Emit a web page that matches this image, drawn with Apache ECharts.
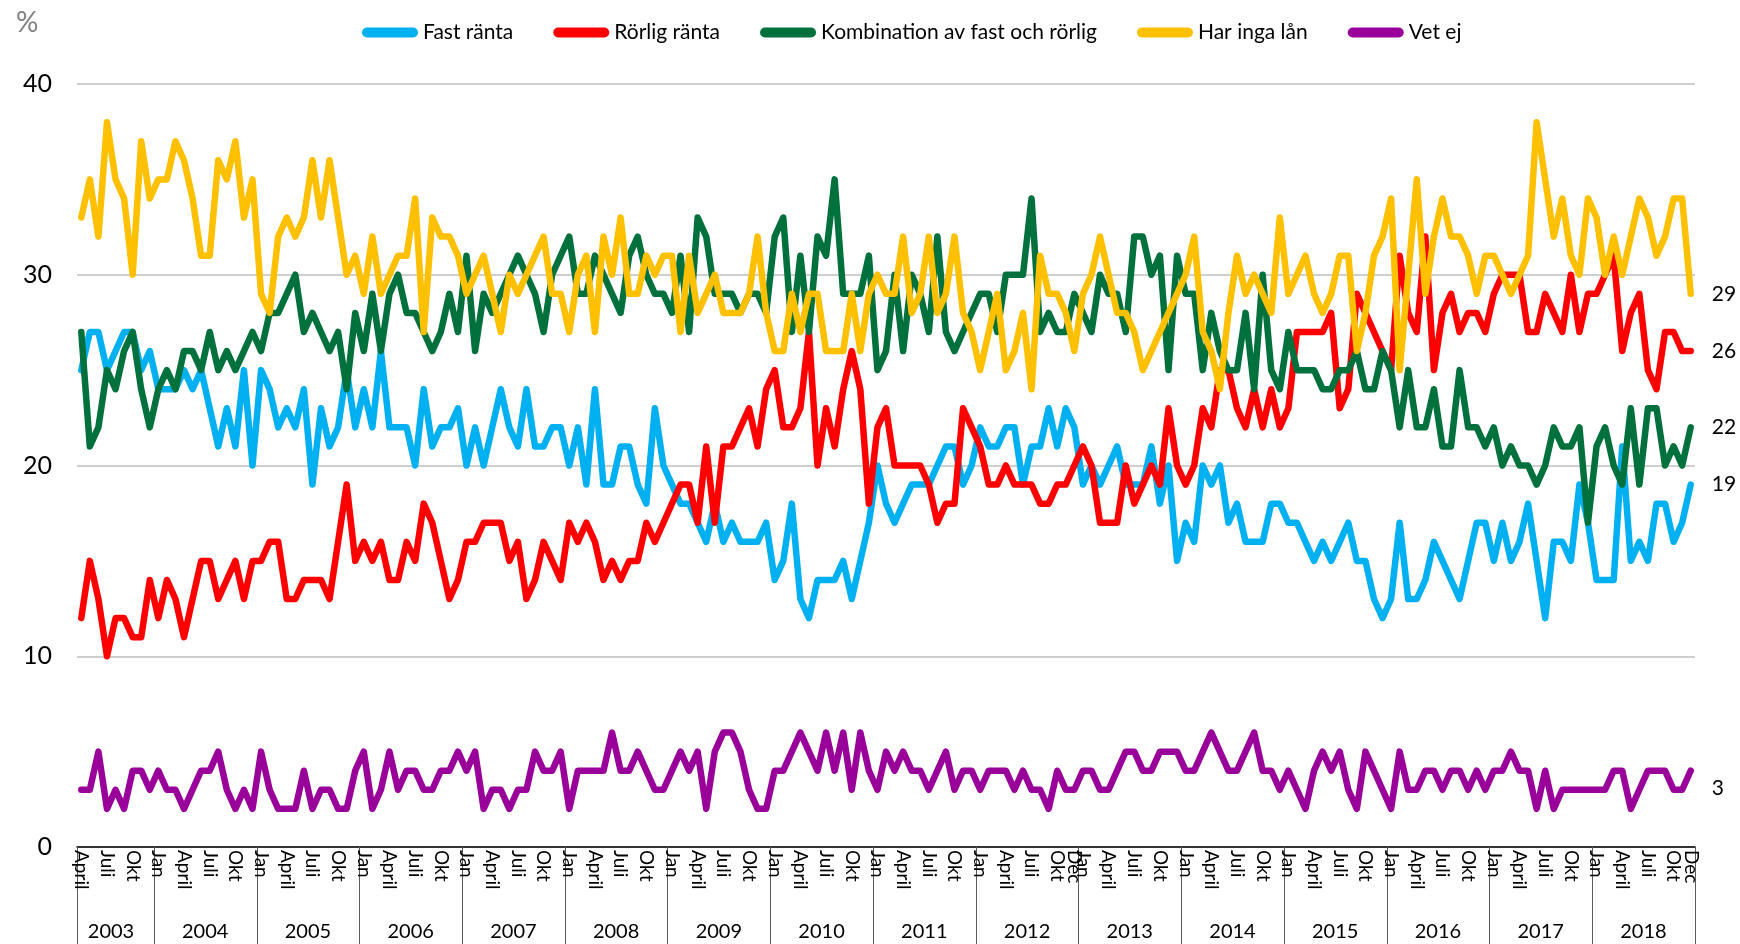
<!DOCTYPE html>
<html>
<head>
<meta charset="utf-8">
<title>Bolån</title>
<script src="https://cdn.jsdelivr.net/npm/echarts@6/dist/echarts.min.js"></script>
<style>
html, body { margin: 0; padding: 0; background: #fff; }
#container { width: 1740px; height: 944px; }
</style>
</head>
<body>
<div id="container"></div>
<script>
// år och månader på x-axeln
var years = ['2003', '2004', '2005', '2006', '2007', '2008', '2009', '2010',
    '2011', '2012', '2013', '2014', '2015', '2016', '2017', '2018'];
var monthNames = ['Jan', 'Feb', 'Mars', 'April', 'Maj', 'Juni', 'Juli', 'Aug', 'Sep', 'Okt', 'Nov', 'Dec'];
var shownMonths = ['Jan', 'April', 'Juli', 'Okt'];
var extraLabels = ['Dec 2012', 'Dec 2018'];
var startMonth = 3; // serien börjar i april 2003

// andel i procent, april 2003 - dec 2018
var fastRanta = [
    25, 27, 27, 25, 26, 27, 27, 25, 26, 24, 24, 24, 25, 24, 25, 23, 21, 23, 21, 25, 20, 25, 24, 22,
    23, 22, 24, 19, 23, 21, 22, 25, 22, 24, 22, 26, 22, 22, 22, 20, 24, 21, 22, 22, 23, 20, 22, 20,
    22, 24, 22, 21, 24, 21, 21, 22, 22, 20, 22, 19, 24, 19, 19, 21, 21, 19, 18, 23, 20, 19, 18, 18,
    17, 16, 18, 16, 17, 16, 16, 16, 17, 14, 15, 18, 13, 12, 14, 14, 14, 15, 13, 15, 17, 20, 18, 17,
    18, 19, 19, 19, 20, 21, 21, 19, 20, 22, 21, 21, 22, 22, 19, 21, 21, 23, 21, 23, 22, 19, 20, 19,
    20, 21, 19, 19, 19, 21, 18, 20, 15, 17, 16, 20, 19, 20, 17, 18, 16, 16, 16, 18, 18, 17, 17, 16,
    15, 16, 15, 16, 17, 15, 15, 13, 12, 13, 17, 13, 13, 14, 16, 15, 14, 13, 15, 17, 17, 15, 17, 15,
    16, 18, 15, 12, 16, 16, 15, 19, 17, 14, 14, 14, 21, 15, 16, 15, 18, 18, 16, 17, 19];
var rorligRanta = [
    12, 15, 13, 10, 12, 12, 11, 11, 14, 12, 14, 13, 11, 13, 15, 15, 13, 14, 15, 13, 15, 15, 16, 16,
    13, 13, 14, 14, 14, 13, 16, 19, 15, 16, 15, 16, 14, 14, 16, 15, 18, 17, 15, 13, 14, 16, 16, 17,
    17, 17, 15, 16, 13, 14, 16, 15, 14, 17, 16, 17, 16, 14, 15, 14, 15, 15, 17, 16, 17, 18, 19, 19,
    17, 21, 17, 21, 21, 22, 23, 21, 24, 25, 22, 22, 23, 27, 20, 23, 21, 24, 26, 24, 18, 22, 23, 20,
    20, 20, 20, 19, 17, 18, 18, 23, 22, 21, 19, 19, 20, 19, 19, 19, 18, 18, 19, 19, 20, 21, 20, 17,
    17, 17, 20, 18, 19, 20, 19, 23, 20, 19, 20, 23, 22, 25, 25, 23, 22, 24, 22, 24, 22, 23, 27, 27,
    27, 27, 28, 23, 24, 29, 28, 27, 26, 25, 31, 28, 27, 32, 25, 28, 29, 27, 28, 28, 27, 29, 30, 30,
    30, 27, 27, 29, 28, 27, 30, 27, 29, 29, 30, 31, 26, 28, 29, 25, 24, 27, 27, 26, 26];
var kombination = [
    27, 21, 22, 25, 24, 26, 27, 24, 22, 24, 25, 24, 26, 26, 25, 27, 25, 26, 25, 26, 27, 26, 28, 28,
    29, 30, 27, 28, 27, 26, 27, 24, 28, 26, 29, 26, 29, 30, 28, 28, 27, 26, 27, 29, 27, 31, 26, 29,
    28, 29, 30, 31, 30, 29, 27, 30, 31, 32, 29, 29, 31, 30, 29, 28, 31, 32, 30, 29, 29, 28, 31, 27,
    33, 32, 29, 29, 29, 28, 29, 29, 28, 32, 33, 27, 31, 27, 32, 31, 35, 29, 29, 29, 31, 25, 26, 30,
    26, 30, 29, 27, 32, 27, 26, 27, 28, 29, 29, 27, 30, 30, 30, 34, 27, 28, 27, 27, 29, 28, 27, 30,
    29, 29, 27, 32, 32, 30, 31, 25, 31, 29, 29, 25, 28, 26, 25, 25, 28, 24, 30, 25, 24, 27, 25, 25,
    25, 24, 24, 25, 25, 26, 24, 24, 26, 25, 22, 25, 22, 22, 24, 21, 21, 25, 22, 22, 21, 22, 20, 21,
    20, 20, 19, 20, 22, 21, 21, 22, 17, 21, 22, 20, 19, 23, 19, 23, 23, 20, 21, 20, 22];
var harIngaLan = [
    33, 35, 32, 38, 35, 34, 30, 37, 34, 35, 35, 37, 36, 34, 31, 31, 36, 35, 37, 33, 35, 29, 28, 32,
    33, 32, 33, 36, 33, 36, 33, 30, 31, 29, 32, 29, 30, 31, 31, 34, 27, 33, 32, 32, 31, 29, 30, 31,
    29, 27, 30, 29, 30, 31, 32, 29, 29, 27, 30, 31, 27, 32, 30, 33, 29, 29, 31, 30, 31, 31, 27, 31,
    28, 29, 30, 28, 28, 28, 29, 32, 28, 26, 26, 29, 27, 29, 29, 26, 26, 26, 29, 26, 29, 30, 29, 29,
    32, 28, 29, 32, 28, 29, 32, 28, 27, 25, 27, 29, 25, 26, 28, 24, 31, 29, 29, 28, 26, 29, 30, 32,
    30, 28, 28, 27, 25, 26, 27, 28, 29, 30, 32, 27, 26, 24, 28, 31, 29, 30, 29, 28, 33, 29, 30, 31,
    29, 28, 29, 31, 31, 26, 28, 31, 32, 34, 25, 30, 35, 29, 32, 34, 32, 32, 31, 29, 31, 31, 30, 29,
    30, 31, 38, 35, 32, 34, 31, 30, 34, 33, 30, 32, 30, 32, 34, 33, 31, 32, 34, 34, 29];
var vetEj = [
    3, 3, 5, 2, 3, 2, 4, 4, 3, 4, 3, 3, 2, 3, 4, 4, 5, 3, 2, 3, 2, 5, 3, 2,
    2, 2, 4, 2, 3, 3, 2, 2, 4, 5, 2, 3, 5, 3, 4, 4, 3, 3, 4, 4, 5, 4, 5, 2,
    3, 3, 2, 3, 3, 5, 4, 4, 5, 2, 4, 4, 4, 4, 6, 4, 4, 5, 4, 3, 3, 4, 5, 4,
    5, 2, 5, 6, 6, 5, 3, 2, 2, 4, 4, 5, 6, 5, 4, 6, 4, 6, 3, 6, 4, 3, 5, 4,
    5, 4, 4, 3, 4, 5, 3, 4, 4, 3, 4, 4, 4, 3, 4, 3, 3, 2, 4, 3, 3, 4, 4, 3,
    3, 4, 5, 5, 4, 4, 5, 5, 5, 4, 4, 5, 6, 5, 4, 4, 5, 6, 4, 4, 3, 4, 3, 2,
    4, 5, 4, 5, 3, 2, 5, 4, 3, 2, 5, 3, 3, 4, 4, 3, 4, 4, 3, 4, 3, 4, 4, 5,
    4, 4, 2, 4, 2, 3, 3, 3, 3, 3, 3, 4, 4, 2, 3, 4, 4, 4, 3, 3, 4];

// etiketter vid linjernas slut, som de står i diagrammet
var endLabels = ['19', '26', '22', '29', '3'];

var seriesNames = ['Fast ränta', 'Rörlig ränta', 'Kombination av fast och rörlig', 'Har inga lån', 'Vet ej'];
var seriesColors = ['#00b0f0', '#ff0000', '#00703c', '#ffc000', '#990099'];
var seriesData = [fastRanta, rorligRanta, kombination, harIngaLan, vetEj];

// kategorier "April 2003" ... "Dec 2018", årsetikett mitt i varje år
var categories = [];
var yearMid = {};
for (var y = 0; y < years.length; y++) {
    var first = categories.length;
    for (var m = (y == 0 ? startMonth : 0); m < 12; m++) {
        categories.push(monthNames[m] + ' ' + years[y]);
    }
    yearMid[y == 0 ? first + 4 : first + 6] = true;
}

function monthOf(cat) { return cat.split(' ')[0]; }
function yearOf(cat) { return cat.split(' ')[1]; }

var font = 'Lato';
var capsule = 'path://M5 0H51A5 5 0 0 1 51 10H5A5 5 0 0 1 5 0Z';

// gemensam stil för månadsetiketterna
function monthLabel(test) {
    return {
        rotate: -90,
        margin: 3,
        fontSize: 19,
        color: '#000',
        padding: [10, 0, 0, 0],
        interval: test,
        formatter: function (value) { return monthOf(value); }
    };
}

var dom = document.getElementById("container");
var myChart = echarts.init(dom);
var option = {
    animation: false,
    textStyle: { fontFamily: font },
    title: {
        text: '%',
        left: 11,
        top: 4,
        textStyle: { fontFamily: font, fontSize: 28, fontWeight: 'normal', color: '#808080' }
    },
    legend: {
        left: 357,
        top: 17,
        itemWidth: 56,
        itemHeight: 10,
        itemGap: 40,
        icon: capsule,
        textStyle: { fontFamily: font, fontSize: 21, color: '#000' },
        data: seriesNames
    },
    grid: { left: 77, right: 45, top: 84, bottom: 97 },
    xAxis: [
        {
            type: 'category',
            data: categories,
            boundaryGap: true,
            position: 'bottom',
            axisLine: { lineStyle: { color: '#000', width: 1.5 } },
            axisTick: {
                show: true,
                length: 100,
                lineStyle: { color: '#595959', width: 1 },
                interval: function (index, value) { return index === 0 || monthOf(value) === 'Jan'; }
            },
            axisLabel: monthLabel(function (index, value) {
                return shownMonths.indexOf(monthOf(value)) >= 0;
            }),
            splitLine: { show: false }
        },
        {
            // december 2012 och 2018 får egna etiketter
            type: 'category',
            data: categories,
            boundaryGap: true,
            position: 'bottom',
            axisLine: { show: false },
            axisTick: { show: false },
            axisLabel: monthLabel(function (index, value) {
                return extraLabels.indexOf(value) >= 0;
            }),
            splitLine: { show: false }
        },
        {
            type: 'category',
            data: categories,
            boundaryGap: true,
            position: 'bottom',
            offset: 70,
            axisLine: { show: false },
            axisTick: { show: false },
            axisLabel: {
                margin: 5,
                fontSize: 20,
                color: '#000',
                padding: [0, 9, 0, 0],
                interval: function (index) { return yearMid[index] === true; },
                formatter: function (value) { return yearOf(value); }
            },
            splitLine: { show: false }
        }
    ],
    yAxis: {
        type: 'value',
        min: 0,
        max: 40,
        interval: 10,
        axisLine: { show: false },
        axisTick: { show: false },
        axisLabel: { fontSize: 25, color: '#000', margin: 25 },
        splitLine: { lineStyle: { color: '#bfbfbf', width: 1.5 } }
    },
    series: seriesNames.map(function (name, k) {
        return {
            name: name,
            type: 'line',
            xAxisIndex: 0,
            data: seriesData[k],
            symbol: 'none',
            color: seriesColors[k],
            lineStyle: { width: 6.5, color: seriesColors[k], cap: 'round', join: 'round' },
            emphasis: { disabled: true },
            endLabel: {
                show: true,
                distance: 21,
                fontSize: 21,
                color: '#000',
                offset: k === 4 ? [0, 18] : [0, 0],
                formatter: function () { return endLabels[k]; }
            }
        };
    })
};

if (option && typeof option === 'object') {
    myChart.setOption(option);
}
</script>
</body>
</html>
